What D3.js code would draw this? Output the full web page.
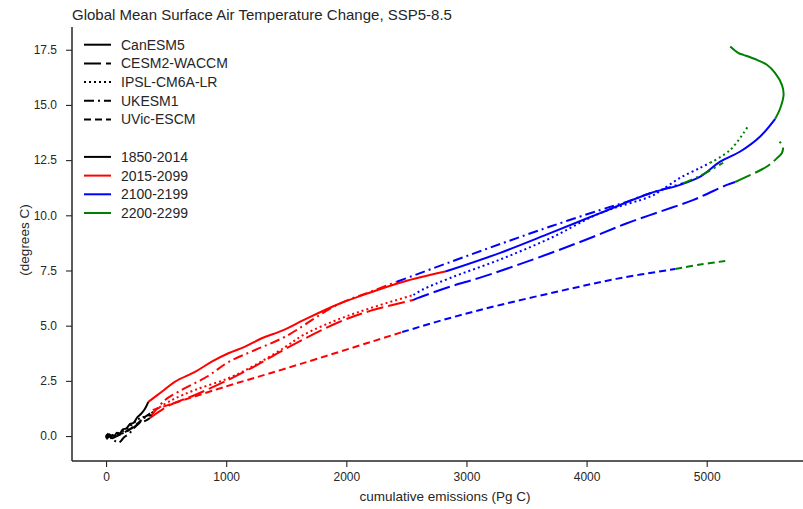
<!DOCTYPE html>
<html>
<head>
<meta charset="utf-8">
<script src="https://cdn.jsdelivr.net/npm/d3@7"></script>
<style>
body { margin: 0; background: #fff; }
text { font-family: "Liberation Sans", Arial, sans-serif; fill: #262626; }
</style>
</head>
<body>
<div id="chart"></div>
<script>
var width = 803,
    height = 509;

var models = ["CanESM5", "CESM2-WACCM", "IPSL-CM6A-LR", "UKESM1", "UVic-ESCM"];
var periods = ["1850-2014", "2015-2099", "2100-2199", "2200-2299"];
var xTicks = [0, 1000, 2000, 3000, 4000, 5000];
var yTicks = [0, 2.5, 5, 7.5, 10, 12.5, 15, 17.5];

// [cumulative emissions (Pg C), temperature change (C)], one list per period
var canesm5 = [
    [[0, 0], [8, -0.12], [15, 0.1], [22, -0.05], [30, 0.08], [40, -0.1], [55, 0.05], [70, 0], [90, 0.15], [110, 0.1], [140, 0.3], [170, 0.35], [200, 0.55], [230, 0.6], [260, 0.85], [290, 1.0], [320, 1.2], [352, 1.55]],
    [[352, 1.55], [464, 2.01], [575, 2.47], [741, 2.91], [880, 3.37], [1018, 3.75], [1157, 4.05], [1296, 4.43], [1476, 4.8], [1643, 5.25], [1921, 5.95], [2198, 6.5], [2475, 6.99], [2823, 7.45]],
    [[2823, 7.45], [2864, 7.52], [3281, 8.3], [3697, 9.19], [4113, 10.1], [4530, 11.0], [4779, 11.38], [4946, 11.75], [5112, 12.43], [5279, 12.89], [5445, 13.57], [5570, 14.37]],
    [[5570, 14.37], [5612, 14.85], [5640, 15.46], [5626, 15.91], [5570, 16.44], [5501, 16.82], [5418, 17.04], [5306, 17.27], [5265, 17.35], [5196, 17.65]]
];
var cesm2 = [
    [[0, 0], [20, 0.05], [50, -0.1], [90, 0], [130, 0.1], [180, 0.25], [230, 0.4], [280, 0.6], [330, 0.7], [366, 0.82]],
    [[366, 0.82], [533, 1.41], [741, 1.86], [1016, 2.54], [1241, 3.17], [1490, 3.94], [1921, 5.12], [2198, 5.67], [2556, 6.16]],
    [[2556, 6.16], [2598, 6.26], [2864, 6.77], [3139, 7.22], [3697, 8.28], [4057, 9.03], [4336, 9.64], [4613, 10.17], [4890, 10.7], [5168, 11.38], [5237, 11.51]],
    [[5237, 11.51], [5306, 11.68], [5501, 12.21], [5585, 12.59], [5626, 12.82], [5634, 13.11], [5606, 13.34]]
];
var ipsl = [
    [[0, 0], [20, 0.1], [50, -0.05], [90, 0.1], [130, 0.2], [180, 0.35], [230, 0.6], [280, 0.8], [330, 0.9], [370, 1.0], [408, 1.18]],
    [[408, 1.18], [547, 1.63], [741, 2.09], [1018, 2.62], [1241, 3.22], [1490, 4.03], [1643, 4.58], [1921, 5.26], [2198, 5.79], [2559, 6.39]],
    [[2559, 6.39], [2629, 6.62], [2864, 7.16], [3281, 8.0], [3697, 8.96], [4113, 10.1], [4530, 10.85], [4613, 11.1], [4779, 11.7], [4946, 12.15], [5029, 12.38]],
    [[5029, 12.38], [5196, 12.96], [5346, 14.05]]
];
var ukesm1 = [
    [[0, 0], [10, -0.1], [25, 0.05], [45, -0.05], [70, -0.2], [100, -0.3], [120, -0.25], [150, -0.05], [190, 0.1], [230, 0.35], [270, 0.55], [310, 0.8], [350, 0.9], [380, 0.95]],
    [[380, 0.95], [491, 1.63], [600, 2.0], [849, 2.72], [1018, 3.35], [1241, 3.9], [1490, 4.5], [1921, 5.94], [2198, 6.53], [2420, 6.99]],
    [[2420, 6.99], [2864, 7.88], [3281, 8.7], [3697, 9.49], [4113, 10.24], [4338, 10.62], [4530, 11.0], [4804, 11.45]],
    [[4804, 11.45], [4946, 11.79], [5137, 12.38]]
];
var uvic = [
    [[0, 0], [40, 0.02], [80, 0.05], [120, 0.1], [170, 0.2], [220, 0.4], [270, 0.6], [320, 0.85], [360, 1.0], [391, 1.18]],
    [[391, 1.18], [1000, 2.25], [1490, 3.05], [2465, 4.71]],
    [[2465, 4.71], [2864, 5.35], [3281, 5.94], [3780, 6.57], [4246, 7.12], [4738, 7.57]],
    [[4738, 7.57], [4946, 7.77], [5154, 7.93]]
];
var runs = [canesm5, cesm2, ipsl, ukesm1, uvic];

var colors = ["black", "red", "blue", "green"];
var dashes = ["none", "17,5", "2,3", "10,4,2,4", "7,4"];

var svg = d3.select("#chart").append("svg")
    .attr("width", width).attr("height", height);

var x = d3.scaleLinear().domain([-283.5, 5943]).range([72, 820]);
var y = d3.scaleLinear().domain([-1.13, 18.53]).range([461, 27]);

var line = d3.line()
    .curve(d3.curveCatmullRom.alpha(0.5))
    .x(function(d) { return x(d[0]); })
    .y(function(d) { return y(d[1]); });

// model curves, one path per period
runs.forEach(function(run, m) {
    svg.append("g").selectAll("path").data(run).enter().append("path")
        .attr("d", line)
        .attr("fill", "none")
        .attr("stroke", function(d, i) { return colors[i]; })
        .attr("stroke-width", 2)
        .attr("stroke-dasharray", dashes[m]);
});

// axes
var xAxis = svg.append("g").attr("transform", "translate(0,461)")
    .call(d3.axisBottom(x).tickValues(xTicks).tickSize(6).tickPadding(5).tickFormat(d3.format("d")));
var yAxis = svg.append("g").attr("transform", "translate(72,0)")
    .call(d3.axisLeft(y).tickValues(yTicks).tickSize(6).tickPadding(9).tickFormat(d3.format(".1f")));

[xAxis, yAxis].forEach(function(a) {
    a.select(".domain").attr("stroke", "#262626").attr("stroke-width", 1.5);
    a.selectAll(".tick line").attr("stroke", "#262626").attr("stroke-width", 1.1);
    a.selectAll(".tick text").style("font-size", "12px").attr("fill", "#262626")
        .style("font-family", "Liberation Sans, Arial, sans-serif");
});
xAxis.select(".domain").attr("d", "M72,0H820");
yAxis.select(".domain").attr("d", "M0,27V461");

svg.append("text").attr("x", 72).attr("y", 20)
    .style("font-size", "15px")
    .text("Global Mean Surface Air Temperature Change, SSP5-8.5");

svg.append("text").attr("x", 445).attr("y", 501)
    .attr("text-anchor", "middle").style("font-size", "13.5px")
    .text("cumulative emissions (Pg C)");

svg.append("text").attr("transform", "translate(29,240) rotate(-90)")
    .attr("text-anchor", "middle").style("font-size", "13.5px")
    .text("(degrees C)");

// legend: models (line style) then a blank row then periods (colour)
var legendRows = models.map(function(d, i) { return {label: d, color: "black", dash: dashes[i]}; })
    .concat([null])
    .concat(periods.map(function(d, i) { return {label: d, color: colors[i], dash: "none"}; }));

var legend = svg.append("g").selectAll("g").data(legendRows).enter().append("g")
    .attr("transform", function(d, i) { return "translate(0," + (44.7 + i * 18.7) + ")"; })
    .filter(function(d) { return d != null; });

legend.append("line")
    .attr("x1", 84).attr("x2", 111)
    .attr("stroke", function(d) { return d.color; })
    .attr("stroke-width", 2)
    .attr("stroke-dasharray", function(d) { return d.dash; });

legend.append("text")
    .attr("x", 121).attr("dy", "0.35em")
    .style("font-size", "14px")
    .text(function(d) { return d.label; });
</script>
</body>
</html>
